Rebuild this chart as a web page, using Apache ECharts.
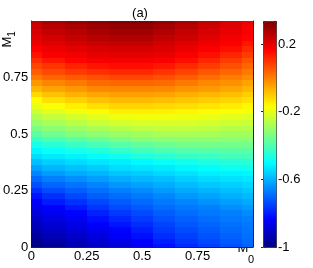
<!DOCTYPE html>
<html><head><meta charset="utf-8">
<script src="https://cdn.jsdelivr.net/npm/echarts@6/dist/echarts.min.js"></script>
<style>html,body{margin:0;padding:0;background:#fff}#c{width:313px;height:268px}</style>
</head><body><div id="c"></div>
<script>
// Grid coordinates (M0 columns, M1 rows)
const m0Values = [0, 0.1, 0.2, 0.3, 0.4, 0.5, 0.6, 0.7, 0.8, 0.9, 1];
const m1Values = [0, 0.025, 0.05, 0.075, 0.1, 0.125, 0.15, 0.175, 0.2, 0.225, 0.25, 0.275, 0.3, 0.325, 0.35, 0.375, 0.4, 0.425, 0.45, 0.475, 0.5, 0.525, 0.55, 0.575, 0.6, 0.625, 0.65, 0.675, 0.7, 0.725, 0.75, 0.775, 0.8, 0.825, 0.85, 0.875, 0.9, 0.925, 0.95, 0.975, 1];
// Field values: one row per M1 value, across M0
const zRows = [
[-1.00,-0.97,-0.94,-0.91,-0.88,-0.845,-0.81,-0.78,-0.75,-0.725,-0.70],
[-0.98,-0.95,-0.92,-0.89,-0.865,-0.835,-0.795,-0.765,-0.74,-0.715,-0.695],
[-0.96,-0.93,-0.905,-0.875,-0.845,-0.815,-0.775,-0.75,-0.725,-0.705,-0.685],
[-0.94,-0.91,-0.885,-0.855,-0.83,-0.795,-0.76,-0.735,-0.715,-0.695,-0.68],
[-0.92,-0.89,-0.865,-0.835,-0.805,-0.775,-0.745,-0.72,-0.70,-0.685,-0.675],
[-0.90,-0.87,-0.85,-0.815,-0.785,-0.755,-0.725,-0.705,-0.69,-0.675,-0.665],
[-0.88,-0.85,-0.83,-0.79,-0.76,-0.735,-0.71,-0.69,-0.675,-0.665,-0.65],
[-0.86,-0.835,-0.80,-0.765,-0.735,-0.715,-0.69,-0.675,-0.665,-0.645,-0.63],
[-0.84,-0.80,-0.77,-0.74,-0.715,-0.695,-0.675,-0.66,-0.64,-0.625,-0.61],
[-0.81,-0.77,-0.74,-0.71,-0.69,-0.675,-0.655,-0.635,-0.62,-0.605,-0.59],
[-0.77,-0.735,-0.71,-0.685,-0.665,-0.65,-0.63,-0.61,-0.595,-0.58,-0.57],
[-0.73,-0.70,-0.68,-0.66,-0.635,-0.62,-0.605,-0.585,-0.57,-0.56,-0.55],
[-0.695,-0.665,-0.645,-0.625,-0.605,-0.59,-0.58,-0.56,-0.545,-0.535,-0.53],
[-0.66,-0.63,-0.61,-0.595,-0.575,-0.565,-0.55,-0.535,-0.52,-0.515,-0.51],
[-0.62,-0.595,-0.58,-0.565,-0.545,-0.535,-0.525,-0.51,-0.50,-0.485,-0.48],
[-0.58,-0.56,-0.545,-0.53,-0.52,-0.505,-0.49,-0.475,-0.46,-0.45,-0.445],
[-0.545,-0.525,-0.515,-0.50,-0.48,-0.46,-0.445,-0.43,-0.425,-0.415,-0.41],
[-0.51,-0.49,-0.47,-0.455,-0.435,-0.415,-0.40,-0.39,-0.385,-0.38,-0.38],
[-0.47,-0.445,-0.425,-0.405,-0.385,-0.37,-0.355,-0.345,-0.345,-0.345,-0.345],
[-0.425,-0.40,-0.38,-0.36,-0.34,-0.32,-0.315,-0.31,-0.31,-0.315,-0.315],
[-0.38,-0.355,-0.33,-0.315,-0.30,-0.29,-0.28,-0.28,-0.28,-0.29,-0.29],
[-0.34,-0.315,-0.295,-0.275,-0.26,-0.25,-0.245,-0.245,-0.25,-0.26,-0.26],
[-0.30,-0.28,-0.255,-0.235,-0.22,-0.215,-0.215,-0.215,-0.22,-0.23,-0.235],
[-0.27,-0.24,-0.22,-0.20,-0.185,-0.18,-0.18,-0.185,-0.19,-0.20,-0.21],
[-0.23,-0.205,-0.18,-0.16,-0.145,-0.145,-0.145,-0.155,-0.16,-0.17,-0.18],
[-0.195,-0.17,-0.145,-0.125,-0.11,-0.11,-0.115,-0.12,-0.13,-0.14,-0.155],
[-0.16,-0.125,-0.105,-0.085,-0.075,-0.075,-0.08,-0.09,-0.10,-0.11,-0.125],
[-0.115,-0.085,-0.065,-0.05,-0.04,-0.04,-0.045,-0.06,-0.07,-0.08,-0.10],
[-0.07,-0.045,-0.03,-0.01,-0.005,-0.005,-0.01,-0.025,-0.035,-0.05,-0.07],
[-0.03,-0.005,0.01,0.03,0.035,0.035,0.03,0.01,-0.01,-0.02,-0.045],
[0.01,0.035,0.05,0.065,0.075,0.075,0.065,0.045,0.025,0.005,-0.015],
[0.045,0.07,0.09,0.105,0.115,0.115,0.10,0.08,0.055,0.035,0.01],
[0.08,0.10,0.125,0.145,0.155,0.155,0.14,0.115,0.09,0.065,0.035],
[0.11,0.14,0.165,0.18,0.18,0.18,0.175,0.15,0.12,0.09,0.06],
[0.145,0.175,0.185,0.20,0.205,0.205,0.195,0.175,0.15,0.12,0.09],
[0.17,0.19,0.205,0.22,0.225,0.225,0.215,0.195,0.175,0.15,0.115],
[0.19,0.21,0.225,0.24,0.245,0.245,0.23,0.21,0.19,0.17,0.14],
[0.205,0.225,0.245,0.26,0.27,0.27,0.25,0.23,0.205,0.185,0.165],
[0.22,0.245,0.26,0.28,0.29,0.29,0.27,0.245,0.22,0.195,0.175],
[0.235,0.26,0.28,0.30,0.31,0.31,0.29,0.265,0.235,0.21,0.18],
[0.25,0.28,0.30,0.32,0.33,0.33,0.31,0.28,0.25,0.22,0.19]
];
const xTickLabels = [0, 0.25, 0.5, 0.75];
const yTickLabels = [0, 0.25, 0.5, 0.75];
const innerTicks = [0.25, 0.5, 0.75];
const cbTicks = [-1, -0.6, -0.2, 0.2];
const cbMin = -1, cbMax = 0.336;
const jet = ['#00007F','#0000FF','#007FFF','#00FFFF','#7FFF7F','#FFFF00','#FF7F00','#FF0000','#7F0000'];

const data = [];
zRows.forEach((row, j) => row.forEach((v, i) => data.push([m0Values[i], m1Values[j], v])));
const hx = (m0Values[1] - m0Values[0]) / 2;
const hy = (m1Values[1] - m1Values[0]) / 2;

const FONT = 'Liberation Sans';
const lineStyle = { color: '#222', width: 1 };
function axisCommon(extra) {
  return Object.assign({
    type: 'value', min: 0, max: 1,
    axisLine: { show: true, onZero: false, lineStyle },
    axisTick: { show: true, inside: true, length: 3, customValues: innerTicks, lineStyle },
    splitLine: { show: false }
  }, extra);
}

const chart = echarts.init(document.getElementById('c'), null, { renderer: 'canvas' });
chart.setOption({
  backgroundColor: '#fff',
  animation: false,
  grid: [
    { left: 27, top: 21, width: 226, height: 226 },
    { left: 263, top: 21, width: 13, height: 226, show: false }
  ],
  xAxis: [
    axisCommon({ gridIndex: 0, position: 'bottom',
      axisLabel: { customValues: xTickLabels, margin: 3, fontSize: 13, color: '#000', fontFamily: FONT } }),
    axisCommon({ gridIndex: 0, position: 'top', axisLabel: { show: false } }),
    { type: 'value', gridIndex: 1, show: false, min: 0, max: 1 }
  ],
  yAxis: [
    axisCommon({ gridIndex: 0, position: 'left',
      axisLabel: { customValues: yTickLabels, margin: 3, fontSize: 13, color: '#000', fontFamily: FONT } }),
    axisCommon({ gridIndex: 0, position: 'right', axisLabel: { show: false } }),
    { type: 'value', gridIndex: 1, position: 'right', min: cbMin, max: cbMax,
      axisLine: { show: false }, splitLine: { show: false },
      axisTick: { show: true, inside: true, length: 2, customValues: cbTicks, lineStyle },
      axisLabel: { customValues: cbTicks, margin: 2, fontSize: 13, color: '#000', fontFamily: FONT } }
  ],
  visualMap: {
    type: 'continuous', min: cbMin, max: cbMax, dimension: 2, seriesIndex: 0,
    inRange: { color: jet }, calculable: false, orient: 'vertical',
    left: 263, top: 21, itemWidth: 13, itemHeight: 226, padding: 0,
    borderColor: '#222', borderWidth: 1, text: null, hoverLink: false
  },
  series: [{
    type: 'custom', xAxisIndex: 0, yAxisIndex: 0, data: data,
    renderItem: function (params, api) {
      const x = api.value(0), y = api.value(1);
      const p0 = api.coord([Math.max(0, x - hx), Math.min(1, y + hy)]);
      const p1 = api.coord([Math.min(1, x + hx), Math.max(0, y - hy)]);
      const x0 = Math.round(p0[0]), y0 = Math.round(p0[1]);
      const x1 = Math.round(p1[0]), y1 = Math.round(p1[1]);
      return { type: 'rect', shape: { x: x0, y: y0, width: x1 - x0, height: y1 - y0 },
        style: { fill: api.visual('color') } };
    }
  }],
  graphic: [
    { type: 'text', x: 140, y: 13, style: { text: '(a)', font: '13px ' + FONT, fill: '#000', align: 'center', verticalAlign: 'middle' } },
    { type: 'text', x: 243, y: 248, style: { text: 'M', font: '13px ' + FONT, fill: '#000', align: 'center', verticalAlign: 'middle' } },
    { type: 'text', x: 251, y: 260, style: { text: '0', font: '11px ' + FONT, fill: '#000', align: 'center', verticalAlign: 'middle' } },
    { type: 'text', x: 7, y: 42, rotation: Math.PI / 2, style: { text: 'M', font: '13px ' + FONT, fill: '#000', align: 'center', verticalAlign: 'middle' } },
    { type: 'text', x: 12, y: 34, rotation: Math.PI / 2, style: { text: '1', font: '10px ' + FONT, fill: '#000', align: 'center', verticalAlign: 'middle' } }
  ]
});
</script></body></html>
